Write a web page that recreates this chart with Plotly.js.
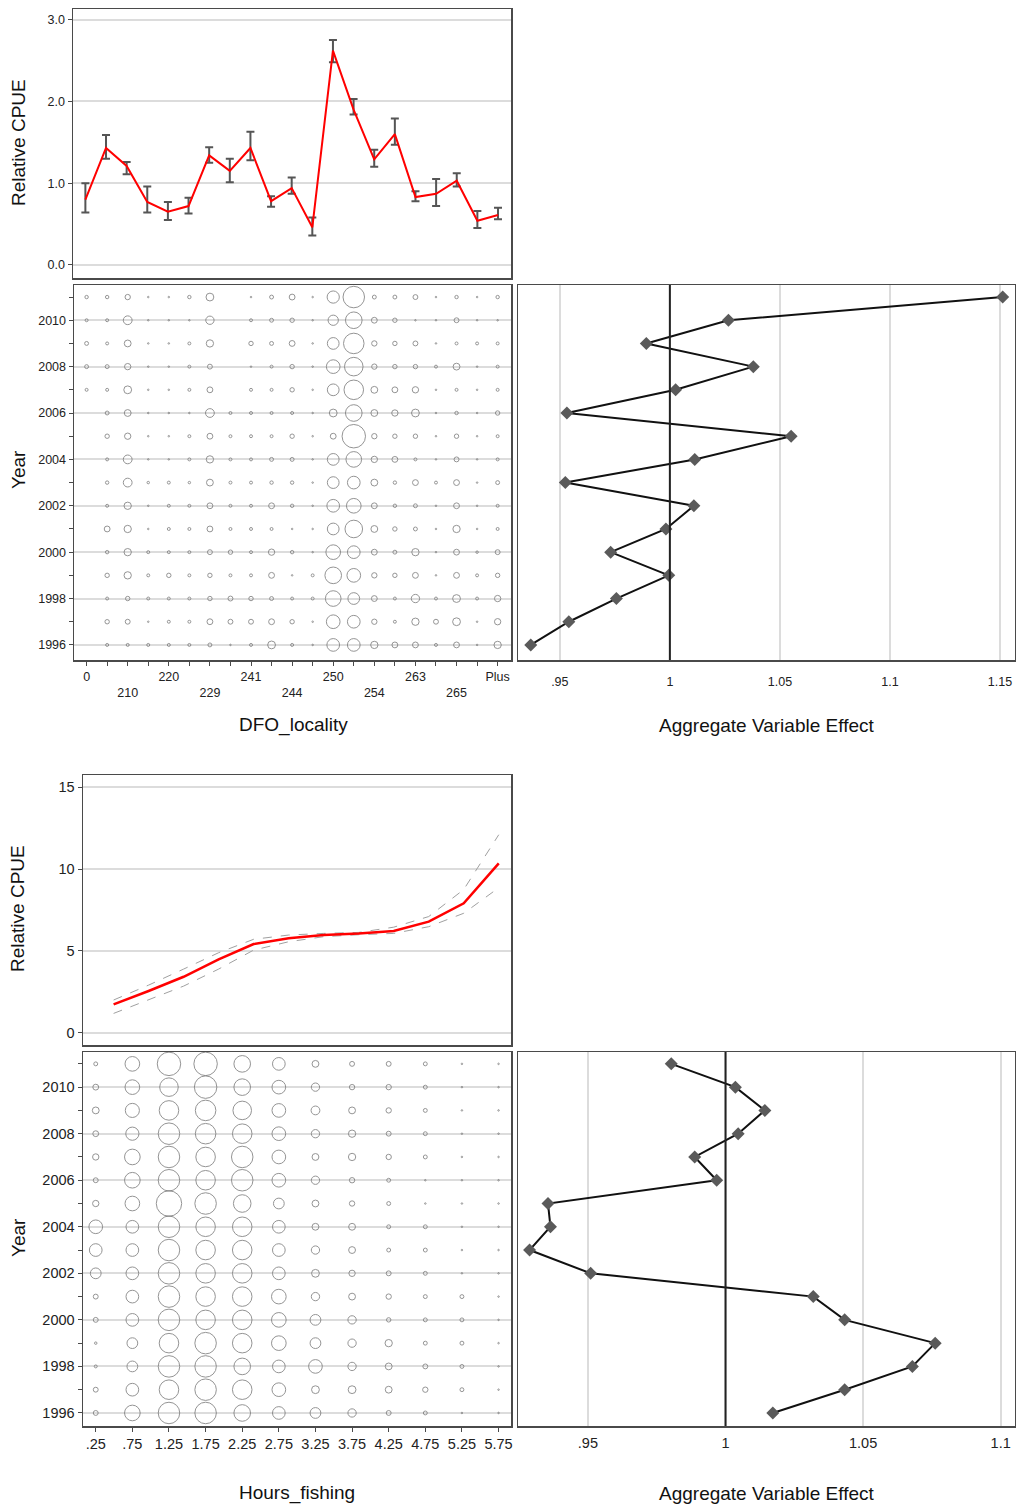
<!DOCTYPE html>
<html><head><meta charset="utf-8">
<script src="https://cdn.plot.ly/plotly-3.0.1.min.js"></script>
<style>body{margin:0;background:#fff}#chart{width:1016px;height:1508px}</style>
</head><body><div id="chart"></div>
<script>
// ---------- DATA: DFO_locality ----------
const localityTickText = ['0','210','220','229','241','244','250','254','263','265','Plus'];
const localityIndex = [0,1,2,3,4,5,6,7,8,9,10,11,12,13,14,15,16,17,18,19,20];
const localityCPUE  = [0.80,1.43,1.21,0.77,0.65,0.72,1.34,1.15,1.43,0.78,0.94,0.46,2.62,1.90,1.29,1.60,0.83,0.87,1.03,0.54,0.61];
const localityUpper = [1.00,1.59,1.26,0.96,0.77,0.82,1.44,1.30,1.63,0.84,1.07,0.58,2.75,2.03,1.41,1.79,0.90,1.05,1.12,0.66,0.70];
const localityLower = [0.64,1.30,1.11,0.64,0.55,0.63,1.25,1.01,1.28,0.71,0.87,0.36,2.48,1.84,1.20,1.47,0.78,0.72,0.96,0.45,0.56];
const years = [1996,1997,1998,1999,2000,2001,2002,2003,2004,2005,2006,2007,2008,2009,2010,2011];
const localityEffect = [0.9368,0.9541,0.9757,0.9995,0.9731,0.9982,1.0109,0.9525,1.0113,1.0551,0.9532,1.0026,1.0379,0.9893,1.0266,1.1512];
// relative share of records (area units), rows 1996..2011, columns = localityIndex
const localityRecords = [
 [0,1.9,1.9,1.9,1.9,1.9,3.3,0.5,1.9,13.2,1.9,0.5,34.9,34.9,11.6,7.4,7.4,1.9,7.4,0.5,11.6],
 [0,4.2,5.2,0.5,1.9,1.9,7.4,5.2,5.2,7.4,4.2,0.5,40.5,34.9,6.2,1.9,11.6,5.2,13.2,0.5,8.7],
 [0,1.9,4.2,1.9,1.9,1.9,4.2,5.2,4.2,3.3,1.9,1.9,52.9,29.8,7.4,1.9,14.9,1.9,13.2,1.9,8.7],
 [0,4.2,11.6,1.9,4.2,1.9,4.2,1.9,1.9,7.4,0.5,1.9,59.7,40.5,6.2,4.2,7.4,0.5,7.4,1.9,4.2],
 [0,2.5,11.6,1.9,1.9,1.9,5.2,4.2,1.9,8.7,2.5,0.5,46.5,34.9,7.4,3.3,11.6,0.5,7.4,1.3,5.2],
 [0,7.4,11.6,0.5,1.9,1.9,7.4,1.9,1.9,1.9,0.5,0.5,29.8,66.9,10.1,4.2,3.3,0.5,11.6,0.5,1.9],
 [0,1.9,11.6,0.5,1.9,1.9,7.4,1.9,1.9,7.4,2.5,0.5,34.9,46.5,7.4,2.5,3.3,0.5,7.4,0.5,1.9],
 [0,2.5,16.7,1.3,1.9,1.3,10.1,1.9,1.9,2.5,2.5,0.5,29.8,34.9,10.1,2.5,7.4,1.9,7.4,0.5,3.3],
 [0,1.9,16.7,0.5,0.5,1.9,11.6,1.9,1.9,3.3,3.3,0.5,29.8,52.9,8.7,7.4,1.9,0.5,5.2,0.5,1.9],
 [0,4.2,8.7,0.5,0.5,1.9,7.4,1.9,1.9,1.9,4.2,0.5,7.4,119,6.2,4.2,4.2,0.5,4.2,0.5,1.9],
 [0,3.3,10.1,0.5,0.5,0.5,16.7,1.9,1.9,1.9,1.9,0.5,13.2,59.7,10.1,8.7,13.2,0.5,2.5,0.5,4.2],
 [1.9,1.9,13.2,0.5,0.5,1.9,7.4,0,1.9,1.9,4.2,0.5,29.8,82.6,10.1,7.4,8.7,0.5,1.9,0.5,1.9],
 [3.3,3.3,8.7,0.5,0.5,1.9,5.2,0,0.5,1.9,4.2,0.5,40.5,74.6,6.2,4.2,4.2,1.9,10.1,0.5,1.9],
 [3.3,1.9,10.1,0.5,0.5,1.9,11.6,0,4.2,3.3,7.4,0.5,29.8,91.1,6.2,4.2,5.2,0.5,1.9,1.9,1.9],
 [1.9,1.9,16.7,0.5,0.5,0.5,14.9,0,1.9,3.3,4.2,0.5,22.8,59.7,7.4,4.2,0.5,0.5,5.2,0.5,0.5],
 [2.5,2.5,6.2,0.5,0.5,2.5,13.2,0,0.5,3.3,7.4,0.5,32.3,100,3.3,3.3,5.2,0.5,2.5,0.5,2.5]
];

// ---------- DATA: Hours_fishing ----------
const hoursCategories = [0.25,0.75,1.25,1.75,2.25,2.75,3.25,3.75,4.25,4.75,5.25,5.75];
const hoursTickText = ['.25','.75','1.25','1.75','2.25','2.75','3.25','3.75','4.25','4.75','5.25','5.75'];
const hoursCPUE  = [1.73,2.55,3.42,4.48,5.42,5.77,5.97,6.07,6.22,6.79,7.91,10.35];
const hoursUpper = [2.00,2.91,3.89,4.89,5.71,5.97,6.07,6.13,6.45,7.10,8.75,12.10];
const hoursLower = [1.18,2.00,2.85,3.89,5.05,5.56,5.87,5.99,6.07,6.48,7.30,8.86];
const hoursEffect = [1.0172,1.0433,1.0679,1.0762,1.0433,1.0319,0.9510,0.9288,0.9364,0.9355,0.9968,0.9888,1.0046,1.0143,1.0036,0.9803];
const hoursRecords = [
 [5.2,52.9,100,100,59.7,34.9,25,14.9,5.2,3.3,0.5,0.5],
 [5.2,34.9,82.6,100,82.6,40.5,13.2,13.2,10.1,6.2,3.3,0.5],
 [1.9,25,100,100,59.7,34.9,40.5,14.9,10.1,5.2,3.3,0.5],
 [1.3,25,82.6,100,82.6,46.5,25,14.9,11.6,3.3,3.3,0.5],
 [5.2,34.9,100,82.6,82.6,46.5,25,14.9,4.2,3.3,3.3,0.5],
 [5.2,34.9,100,82.6,82.6,46.5,14.9,10.1,6.2,3.3,3.3,0.5],
 [25,34.9,100,82.6,82.6,34.9,13.2,8.7,5.2,3.3,0.5,0.5],
 [34.9,34.9,100,82.6,82.6,34.9,14.9,10.1,3.3,3.3,0.5,0.5],
 [40.5,34.9,100,82.6,82.6,34.9,10.1,10.1,3.3,3.3,0.5,0.5],
 [8.7,46.5,139.7,100,66.9,25,10.1,6.2,3.3,0.5,0.5,0.5],
 [5.2,52.9,100,82.6,100,40.5,14.9,6.2,3.3,0.5,0.5,0.5],
 [8.7,52.9,100,82.6,100,40.5,10.1,11.6,6.2,3.3,0.5,0.5],
 [7.4,37.7,100,91.1,82.6,40.5,14.9,11.6,5.2,3.3,0.5,0.5],
 [10.1,43,82.6,91.1,74.6,40.5,16.7,10.1,6.2,3.3,0.5,0.5],
 [7.4,46.5,74.6,109.3,59.7,40.5,14.9,6.2,6.2,3.3,0.5,0.5],
 [3.3,46.5,119,119,59.7,34.9,10.1,5.2,5.2,3.3,0.5,0.5]
];

// ---------- LAYOUT HELPERS ----------
const W = 1016, H = 1508;
const dx = (a,b) => [a/W, b/W];
const dy = (top,bottom) => [1-bottom/H, 1-top/H];
const FONT = 'Liberation Sans, Arial, sans-serif';
const FRAME = '#4a4a4a';
const GRID = '#dcdcdc';

function frameAxis(extra) {
  return Object.assign({
    showline:true, mirror:true, linecolor:FRAME, linewidth:1.5,
    zeroline:false, showgrid:false, ticks:'', fixedrange:true,
    tickfont:{family:FONT, size:12.5, color:'#222'}
  }, extra);
}

function bubbleTrace(records, xs, xa, ya) {
  const x=[], y=[], s=[];
  records.forEach((row,ri) => row.forEach((v,ci) => {
    if (v > 0) { x.push(xs[ci]); y.push(years[ri]); s.push(Math.max(1.5, 21.5*Math.sqrt(v/100))); }
  }));
  return {type:'scatter', mode:'markers', x, y, xaxis:xa, yaxis:ya, hoverinfo:'skip',
    marker:{symbol:'circle', size:s, sizemode:'diameter', color:'rgba(0,0,0,0)', line:{color:'#686868', width:1}}};
}

const evenYears = years.filter(v => v % 2 === 0);

const locTickVals = localityIndex;
const locTickText = localityIndex.map(i => i % 2 ? '' : ((i/2) % 2 ? '<br>' + localityTickText[i/2] : localityTickText[i/2]));

const traces = [
  // A: locality CPUE
  {type:'scatter', mode:'markers', x:localityIndex, y:localityCPUE, xaxis:'x', yaxis:'y', hoverinfo:'skip',
   marker:{size:1, color:'rgba(0,0,0,0)'},
   error_y:{type:'data', symmetric:false,
     array: localityUpper.map((u,i) => u - localityCPUE[i]),
     arrayminus: localityLower.map((l,i) => localityCPUE[i] - l),
     color:'#555', thickness:2, width:4}},
  {type:'scatter', mode:'lines', x:localityIndex, y:localityCPUE, xaxis:'x', yaxis:'y', hoverinfo:'skip',
   line:{color:'#ff0000', width:2}},
  // B: locality bubbles
  bubbleTrace(localityRecords, localityIndex, 'x2', 'y2'),
  // C: locality effect
  {type:'scatter', mode:'lines+markers', x:localityEffect, y:years, xaxis:'x3', yaxis:'y3', hoverinfo:'skip',
   line:{color:'#111', width:2}, marker:{symbol:'diamond', size:10, color:'#5a5a5a'}},
  // D: hours CPUE
  {type:'scatter', mode:'lines', x:hoursCategories, y:hoursUpper, xaxis:'x4', yaxis:'y4', hoverinfo:'skip',
   line:{color:'#a0a0a0', width:1, dash:'dash'}},
  {type:'scatter', mode:'lines', x:hoursCategories, y:hoursLower, xaxis:'x4', yaxis:'y4', hoverinfo:'skip',
   line:{color:'#a0a0a0', width:1, dash:'dash'}},
  {type:'scatter', mode:'lines', x:hoursCategories, y:hoursCPUE, xaxis:'x4', yaxis:'y4', hoverinfo:'skip',
   line:{color:'#ff0000', width:2.5}},
  // E: hours bubbles
  bubbleTrace(hoursRecords, hoursCategories, 'x5', 'y5'),
  // F: hours effect
  {type:'scatter', mode:'lines+markers', x:hoursEffect, y:years, xaxis:'x6', yaxis:'y6', hoverinfo:'skip',
   line:{color:'#111', width:2}, marker:{symbol:'diamond', size:10, color:'#5a5a5a'}}
];

const yearAxis = (dom, size) => frameAxis({
  domain:dom, tickmode:'array', tickvals:evenYears, ticktext:evenYears.map(String),
  ticks:'outside', ticklen:4, tickcolor:FRAME, showgrid:true, gridcolor:GRID, gridwidth:2,
  minor:{tickmode:'array', tickvals:years, ticks:'outside', ticklen:4, tickcolor:FRAME, showgrid:false},
  tickfont:{family:FONT, size:size, color:'#222'}
});

const ann = (text, px, py, angle, size) => ({
  text, x:px/W, y:1-py/H, xref:'paper', yref:'paper', xanchor:'center', yanchor:'middle',
  showarrow:false, textangle:angle||0, font:{family:FONT, size:size||19, color:'#111'}
});

const layout = {
  width:W, height:H, margin:{l:0,r:0,t:0,b:0}, showlegend:false,
  paper_bgcolor:'#fff', plot_bgcolor:'#fff',
  // A
  xaxis: frameAxis({domain:dx(73,511), range:[-0.6,20.63], showticklabels:false, anchor:'y'}),
  yaxis: frameAxis({domain:dy(9,278), range:[-0.16,3.13], tickvals:[0,1,2,3], ticktext:['0.0','1.0','2.0','3.0'],
                    ticks:'outside', ticklen:4, tickcolor:FRAME, showgrid:true, gridcolor:GRID, gridwidth:2, anchor:'x'}),
  // B
  xaxis2: frameAxis({domain:dx(74,511), range:[-0.613,20.65], tickmode:'array', tickvals:locTickVals, ticktext:locTickText,
                     ticks:'outside', ticklen:4, tickcolor:FRAME, anchor:'y2'}),
  yaxis2: Object.assign(yearAxis(dy(285,660), 12.5), {range:[1995.35,2011.52], anchor:'x2'}),
  // C
  xaxis3: frameAxis({domain:dx(518,1015), range:[0.931,1.1568], tickmode:'array', tickvals:[0.95,1,1.05,1.1,1.15],
                     ticktext:['.95','1','1.05','1.1','1.15'], showgrid:true, gridcolor:GRID, gridwidth:2, anchor:'y3',
                     ticks:'outside', ticklen:9, tickcolor:'rgba(0,0,0,0)'}),
  yaxis3: frameAxis({domain:dy(285,660), range:[1995.35,2011.52], showticklabels:false, anchor:'x3'}),
  // D
  xaxis4: frameAxis({domain:dx(83,511), range:[-0.187,5.925], showticklabels:false, anchor:'y4'}),
  yaxis4: frameAxis({domain:dy(775,1045), range:[-0.75,15.75], tickvals:[0,5,10,15],
                     ticks:'outside', ticklen:4, tickcolor:FRAME, showgrid:true, gridcolor:GRID, gridwidth:2, anchor:'x4',
                     tickfont:{family:FONT, size:14.5, color:'#222'}}),
  // E
  xaxis5: frameAxis({domain:dx(83,511), range:[0.076,5.92], tickmode:'array', tickvals:hoursCategories, ticktext:hoursTickText,
                     ticks:'outside', ticklen:4, tickcolor:FRAME, anchor:'y5', tickfont:{family:FONT, size:14.5, color:'#222'}}),
  yaxis5: Object.assign(yearAxis(dy(1052,1426), 14.5), {range:[1995.44,2011.51], anchor:'x5'}),
  // F
  xaxis6: frameAxis({domain:dx(518,1015), range:[0.9246,1.1052], tickmode:'array', tickvals:[0.95,1,1.05,1.1],
                     ticktext:['.95','1','1.05','1.1'], showgrid:true, gridcolor:GRID, gridwidth:2, anchor:'y6',
                     ticks:'outside', ticklen:3, tickcolor:'rgba(0,0,0,0)',
                     tickfont:{family:FONT, size:14.5, color:'#222'}}),
  yaxis6: frameAxis({domain:dy(1052,1426), range:[1995.44,2011.51], showticklabels:false, anchor:'x6'}),
  shapes: [
    {type:'line', xref:'x3', yref:'y3 domain', x0:1, x1:1, y0:0, y1:1, layer:'above', line:{color:'#222', width:2}},
    {type:'line', xref:'x6', yref:'y6 domain', x0:1, x1:1, y0:0, y1:1, layer:'above', line:{color:'#222', width:2}}
  ],
  annotations: [
    ann('Relative CPUE', 18, 143, -90),
    ann('Year', 18, 470, -90),
    ann('DFO_locality', 293, 725),
    ann('Aggregate Variable Effect', 766, 725),
    ann('Relative CPUE', 18, 909, -90),
    ann('Year', 18, 1238, -90),
    ann('Hours_fishing', 297, 1493),
    ann('Aggregate Variable Effect', 766, 1493)
  ]
};

Plotly.newPlot('chart', traces, layout, {staticPlot:true, displayModeBar:false});
</script>
</body></html>
